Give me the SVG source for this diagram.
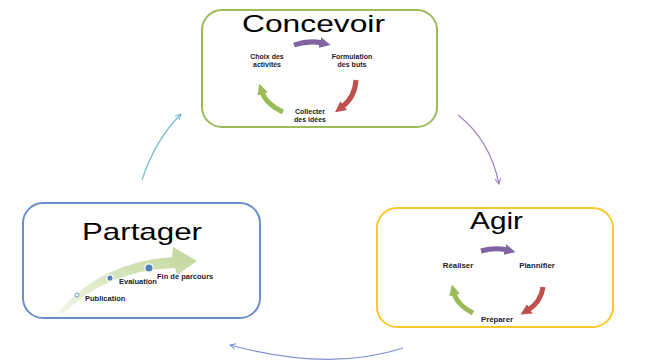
<svg xmlns="http://www.w3.org/2000/svg" width="652" height="360" viewBox="0 0 652 360">
<style>
.box{fill:#fff;stroke-width:2}
.title{font-family:"Liberation Sans",Arial,sans-serif;font-size:24px;fill:#000}
.lbl{font-family:"Liberation Sans",Arial,sans-serif;font-size:7px;font-weight:bold;fill:#1a1a2e;text-anchor:middle}
.lbl8{font-family:"Liberation Sans",Arial,sans-serif;font-size:7.8px;font-weight:bold;fill:#1a1a2e;text-anchor:middle}
.lbls{font-family:"Liberation Sans",Arial,sans-serif;font-size:7.5px;font-weight:bold;fill:#1a1a2e}
.cyc{fill:none;stroke-width:5}
.conn{fill:none;stroke-width:1.2}
</style>
<defs>
<marker id="mp" viewBox="0 0 10 10" refX="2" refY="5" markerWidth="2.2" markerHeight="2.2" orient="auto"><path d="M0,0 L10,5 L0,10 Z" fill="#8064A2"/></marker>
<marker id="mr" viewBox="0 0 10 10" refX="2" refY="5" markerWidth="2.2" markerHeight="2.2" orient="auto"><path d="M0,0 L10,5 L0,10 Z" fill="#C0504D"/></marker>
<marker id="mg" viewBox="0 0 10 10" refX="2" refY="5" markerWidth="2.2" markerHeight="2.2" orient="auto"><path d="M0,0 L10,5 L0,10 Z" fill="#9BBB59"/></marker>
<marker id="cb" viewBox="0 0 10 10" refX="9" refY="5" markerWidth="7" markerHeight="7" markerUnits="userSpaceOnUse" orient="auto"><path d="M1,1 L9,5 L1,9" fill="none" stroke="#6fb9d3" stroke-width="1.5"/></marker>
<marker id="cp" viewBox="0 0 10 10" refX="9" refY="5" markerWidth="7" markerHeight="7" markerUnits="userSpaceOnUse" orient="auto"><path d="M1,1 L9,5 L1,9" fill="none" stroke="#9a82c4" stroke-width="1.5"/></marker>
<marker id="cv" viewBox="0 0 10 10" refX="9" refY="5" markerWidth="7" markerHeight="7" markerUnits="userSpaceOnUse" orient="auto"><path d="M1,1 L9,5 L1,9" fill="none" stroke="#7f8fd0" stroke-width="1.5"/></marker>
<linearGradient id="ga" x1="0" y1="1" x2="1" y2="0">
<stop offset="0" stop-color="#f2f6ea"/>
<stop offset="0.5" stop-color="#d6e4bb"/>
<stop offset="1" stop-color="#c3d69b"/>
</linearGradient>
</defs>

<g id="connectors">
<path class="conn" stroke="#6fb9d3" d="M142,180 Q155,140 181,114" marker-end="url(#cb)"/>
<path class="conn" stroke="#9a82c4" d="M458,115 Q490,140 499,184" marker-end="url(#cp)"/>
<path class="conn" stroke="#7f8fd0" d="M403,348 Q330,372 230,345" marker-end="url(#cv)"/>
</g>

<g id="concevoir">
<rect class="box" x="202" y="10" width="235" height="117" rx="20" stroke="#9BBB59"/>
<text class="title" x="242" y="32" textLength="143" lengthAdjust="spacingAndGlyphs">Concevoir</text>
<path class="cyc" stroke="#8064A2" d="M294,45 Q309,40 322,43" marker-end="url(#mp)"/>
<path class="cyc" stroke="#C0504D" d="M356,80 Q355,97 342,107" marker-end="url(#mr)"/>
<path class="cyc" stroke="#9BBB59" d="M283,112 Q266,104 262,92" marker-end="url(#mg)"/>
<text class="lbl" x="267" y="59">Choix des</text>
<text class="lbl" x="267" y="67">activités</text>
<text class="lbl" x="352" y="59">Formulation</text>
<text class="lbl" x="352" y="67">des buts</text>
<text class="lbl" x="310" y="114">Collecter</text>
<text class="lbl" x="310" y="122">des idées</text>
</g>

<g id="agir">
<rect class="box" x="377" y="208" width="236" height="119" rx="20" stroke="#FFC72C"/>
<text class="title" x="470" y="229" textLength="53" lengthAdjust="spacingAndGlyphs">Agir</text>
<path class="cyc" stroke="#8064A2" d="M481,251 Q495,247 507,250" marker-end="url(#mp)"/>
<path class="cyc" stroke="#C0504D" d="M543,287 Q541,302 528,310" marker-end="url(#mr)"/>
<path class="cyc" stroke="#9BBB59" d="M473,313 Q457,305 454,293" marker-end="url(#mg)"/>
<text class="lbl8" x="458" y="268">Réaliser</text>
<text class="lbl8" x="537" y="268">Plannifier</text>
<text class="lbl8" x="497" y="322">Préparer</text>
</g>

<g id="partager">
<rect class="box" x="23" y="203" width="237" height="115" rx="20" stroke="#6a8fc8"/>
<text class="title" x="82" y="240" textLength="120" lengthAdjust="spacingAndGlyphs">Partager</text>
<path fill="url(#ga)" d="M58,313 Q100,262 172,257 L173,247 L197,261 L177,275 L175,268 Q108,270 64,313 Z"/>
<circle cx="77" cy="295" r="2" fill="#fff" stroke="#4F81BD" stroke-width="0.8"/>
<circle cx="110" cy="278" r="3.2" fill="#4F81BD" stroke="#fff" stroke-width="1.2"/>
<circle cx="149" cy="268" r="4.2" fill="#4F81BD" stroke="#fff" stroke-width="1.2"/>
<text class="lbls" x="85" y="301">Publication</text>
<text class="lbls" x="119" y="284">Evaluation</text>
<text class="lbls" x="157" y="279">Fin de parcours</text>
</g>
</svg>
